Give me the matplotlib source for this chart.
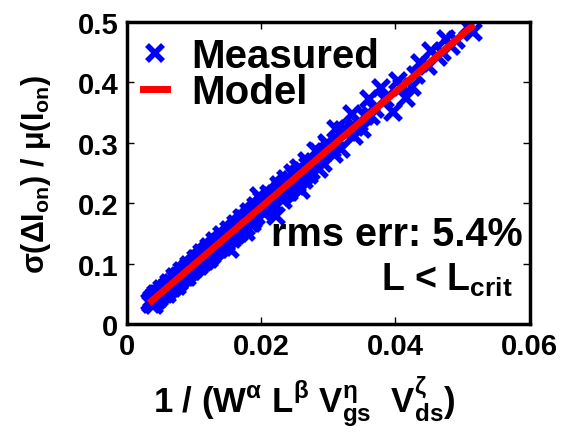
import matplotlib

matplotlib.use("Agg")
import matplotlib.pyplot as plt

plt.rcParams["font.family"] = ["Liberation Sans", "DejaVu Sans"]
plt.rcParams["font.weight"] = "bold"
plt.rcParams["mathtext.fontset"] = "custom"
plt.rcParams["mathtext.rm"] = "Liberation Sans:bold"
plt.rcParams["mathtext.it"] = "Liberation Sans:bold"
plt.rcParams["mathtext.bf"] = "Liberation Sans:bold"

# measured points
meas_x = [
    0.0035, 0.0038, 0.0040, 0.0042, 0.0045, 0.0047, 0.0050, 0.0052, 0.0055, 0.0057,
    0.0060, 0.0062, 0.0065, 0.0068, 0.0070, 0.0073, 0.0075, 0.0078, 0.0080, 0.0083,
    0.0085, 0.0088, 0.0090, 0.0093, 0.0095, 0.0098, 0.0060, 0.0075, 0.0090, 0.0040,
    0.0100, 0.0102, 0.0105, 0.0108, 0.0110, 0.0113, 0.0115, 0.0118, 0.0120, 0.0122,
    0.0125, 0.0128, 0.0130, 0.0133, 0.0135, 0.0138, 0.0140, 0.0143, 0.0145, 0.0148,
    0.0150, 0.0153, 0.0155, 0.0158, 0.0160, 0.0163, 0.0165, 0.0168, 0.0170, 0.0173,
    0.0175, 0.0178, 0.0180, 0.0183, 0.0185, 0.0188, 0.0190, 0.0193, 0.0195, 0.0197,
    0.0200, 0.0203, 0.0205, 0.0208, 0.0210, 0.0213, 0.0215, 0.0218, 0.0220, 0.0222,
    0.0225, 0.0228, 0.0230, 0.0233, 0.0235, 0.0238, 0.0240, 0.0243, 0.0245, 0.0248,
    0.0250, 0.0253, 0.0255, 0.0259, 0.0262, 0.0266, 0.0270, 0.0274, 0.0278, 0.0281,
    0.0286, 0.0290, 0.0295, 0.0300, 0.0305, 0.0311, 0.0315, 0.0319, 0.0325, 0.0330,
    0.0335, 0.0340, 0.0345, 0.0350, 0.0355, 0.0360, 0.0364, 0.0370, 0.0379, 0.0385,
    0.0397, 0.0404, 0.0410, 0.0415, 0.0424, 0.0430, 0.0437, 0.0449, 0.0453, 0.0464,
    0.0470, 0.0476, 0.0483, 0.0490, 0.0508, 0.0516,
    0.0036, 0.0043, 0.0048, 0.0053, 0.0058, 0.0063, 0.0067, 0.0072, 0.0077, 0.0082,
    0.0087, 0.0092, 0.0097, 0.0103, 0.0107, 0.0112, 0.0117, 0.0123, 0.0127, 0.0132,
    0.0137, 0.0142, 0.0147, 0.0152, 0.0157, 0.0162, 0.0167, 0.0172, 0.0177, 0.0182,
    0.0187, 0.0192, 0.0202, 0.0207, 0.0212, 0.0217, 0.0227, 0.0232, 0.0237, 0.0242,
    0.0247, 0.0252, 0.0257, 0.0264, 0.0268, 0.0272, 0.0284, 0.0292, 0.0298, 0.0308,
    0.0322, 0.0338,
]
meas_y = [
    0.036, 0.042, 0.037, 0.046, 0.040, 0.050, 0.046, 0.053, 0.050, 0.058,
    0.055, 0.063, 0.060, 0.068, 0.064, 0.074, 0.068, 0.079, 0.075, 0.083,
    0.079, 0.089, 0.083, 0.094, 0.088, 0.097, 0.049, 0.063, 0.077, 0.031,
    0.100, 0.092, 0.107, 0.098, 0.111, 0.102, 0.116, 0.108, 0.121, 0.108,
    0.124, 0.117, 0.129, 0.122, 0.134, 0.126, 0.139, 0.128, 0.143, 0.136,
    0.148, 0.124, 0.153, 0.145, 0.158, 0.148, 0.163, 0.154, 0.168, 0.160,
    0.173, 0.152, 0.177, 0.168, 0.182, 0.172, 0.187, 0.178, 0.192, 0.212,
    0.196, 0.186, 0.201, 0.190, 0.206, 0.196, 0.211, 0.200, 0.215, 0.179,
    0.219, 0.210, 0.225, 0.214, 0.231, 0.218, 0.235, 0.224, 0.239, 0.228,
    0.245, 0.232, 0.249, 0.222, 0.253, 0.246, 0.262, 0.254, 0.268, 0.286,
    0.257, 0.280, 0.285, 0.296, 0.290, 0.323, 0.304, 0.290, 0.316, 0.318,
    0.348, 0.326, 0.332, 0.323, 0.344, 0.372, 0.344, 0.356, 0.390, 0.372,
    0.351, 0.402, 0.392, 0.375, 0.392, 0.412, 0.433, 0.427, 0.452, 0.442,
    0.450, 0.472, 0.460, 0.470, 0.491, 0.483,
    0.033, 0.049, 0.043, 0.058, 0.052, 0.068, 0.059, 0.078, 0.070, 0.087,
    0.078, 0.097, 0.088, 0.108, 0.096, 0.117, 0.105, 0.128, 0.114, 0.137,
    0.124, 0.147, 0.134, 0.156, 0.140, 0.166, 0.150, 0.176, 0.160, 0.186,
    0.168, 0.196, 0.206, 0.186, 0.216, 0.196, 0.230, 0.206, 0.240, 0.218,
    0.250, 0.228, 0.258, 0.238, 0.270, 0.246, 0.284, 0.266, 0.300, 0.282,
    0.322, 0.312,
]

# fitted model, end points of the red line
model_x = [0.0037, 0.0513]
model_y = [0.038, 0.492]

x_ticks = [0, 0.02, 0.04, 0.06]
x_tick_labels = ["0", "0.02", "0.04", "0.06"]
y_ticks = [0, 0.1, 0.2, 0.3, 0.4, 0.5]
y_tick_labels = ["0", "0.1", "0.2", "0.3", "0.4", "0.5"]

fig = plt.figure(figsize=(5.66, 4.35), dpi=100)
ax = fig.add_axes([0.224, 0.253, 0.712, 0.694])

ax.plot(meas_x, meas_y, linestyle="none", marker="x", color="blue",
        markersize=11, markeredgewidth=4, label="Measured")
ax.plot(model_x, model_y, color="red", linewidth=5, label="Model")

ax.set_xlim(0, 0.06)
ax.set_ylim(0, 0.5)
ax.set_xticks(x_ticks)
ax.set_xticklabels(x_tick_labels)
ax.set_yticks(y_ticks)
ax.set_yticklabels(y_tick_labels)
ax.tick_params(direction="in", top=True, right=True, length=5, width=1,
               labelsize=21, pad=6)
for label in ax.get_xticklabels() + ax.get_yticklabels():
    label.set_fontweight("bold")
for spine in ax.spines.values():
    spine.set_linewidth(2.5)

ax.set_xlabel(r"1 / (W$^{α}$ L$^{β}$ V$_{gs}^{η}$  V$_{ds}^{ζ}$)",
              fontsize=25, fontweight="bold")
ax.xaxis.set_label_coords(0.44, -0.165)
ax.set_ylabel(r"σ(ΔI$_{on}$) / μ(I$_{on}$)", fontsize=22,
              fontweight="bold", labelpad=18)

leg = ax.legend(loc="upper left", bbox_to_anchor=(-0.02, 1.03), frameon=False,
                fontsize=29, handlelength=0.6, handletextpad=0.6,
                labelspacing=-0.05, borderaxespad=0.2)
for text in leg.get_texts():
    text.set_fontweight("bold")

ax.text(0.059, 0.149, "rms err: 5.4%", fontsize=28.5, fontweight="bold",
        ha="right", va="center")
ax.text(0.0575, 0.074, r"L < L$_{crit}$", fontsize=27, fontweight="bold",
        ha="right", va="center")

fig.savefig("out.png", dpi=100)
